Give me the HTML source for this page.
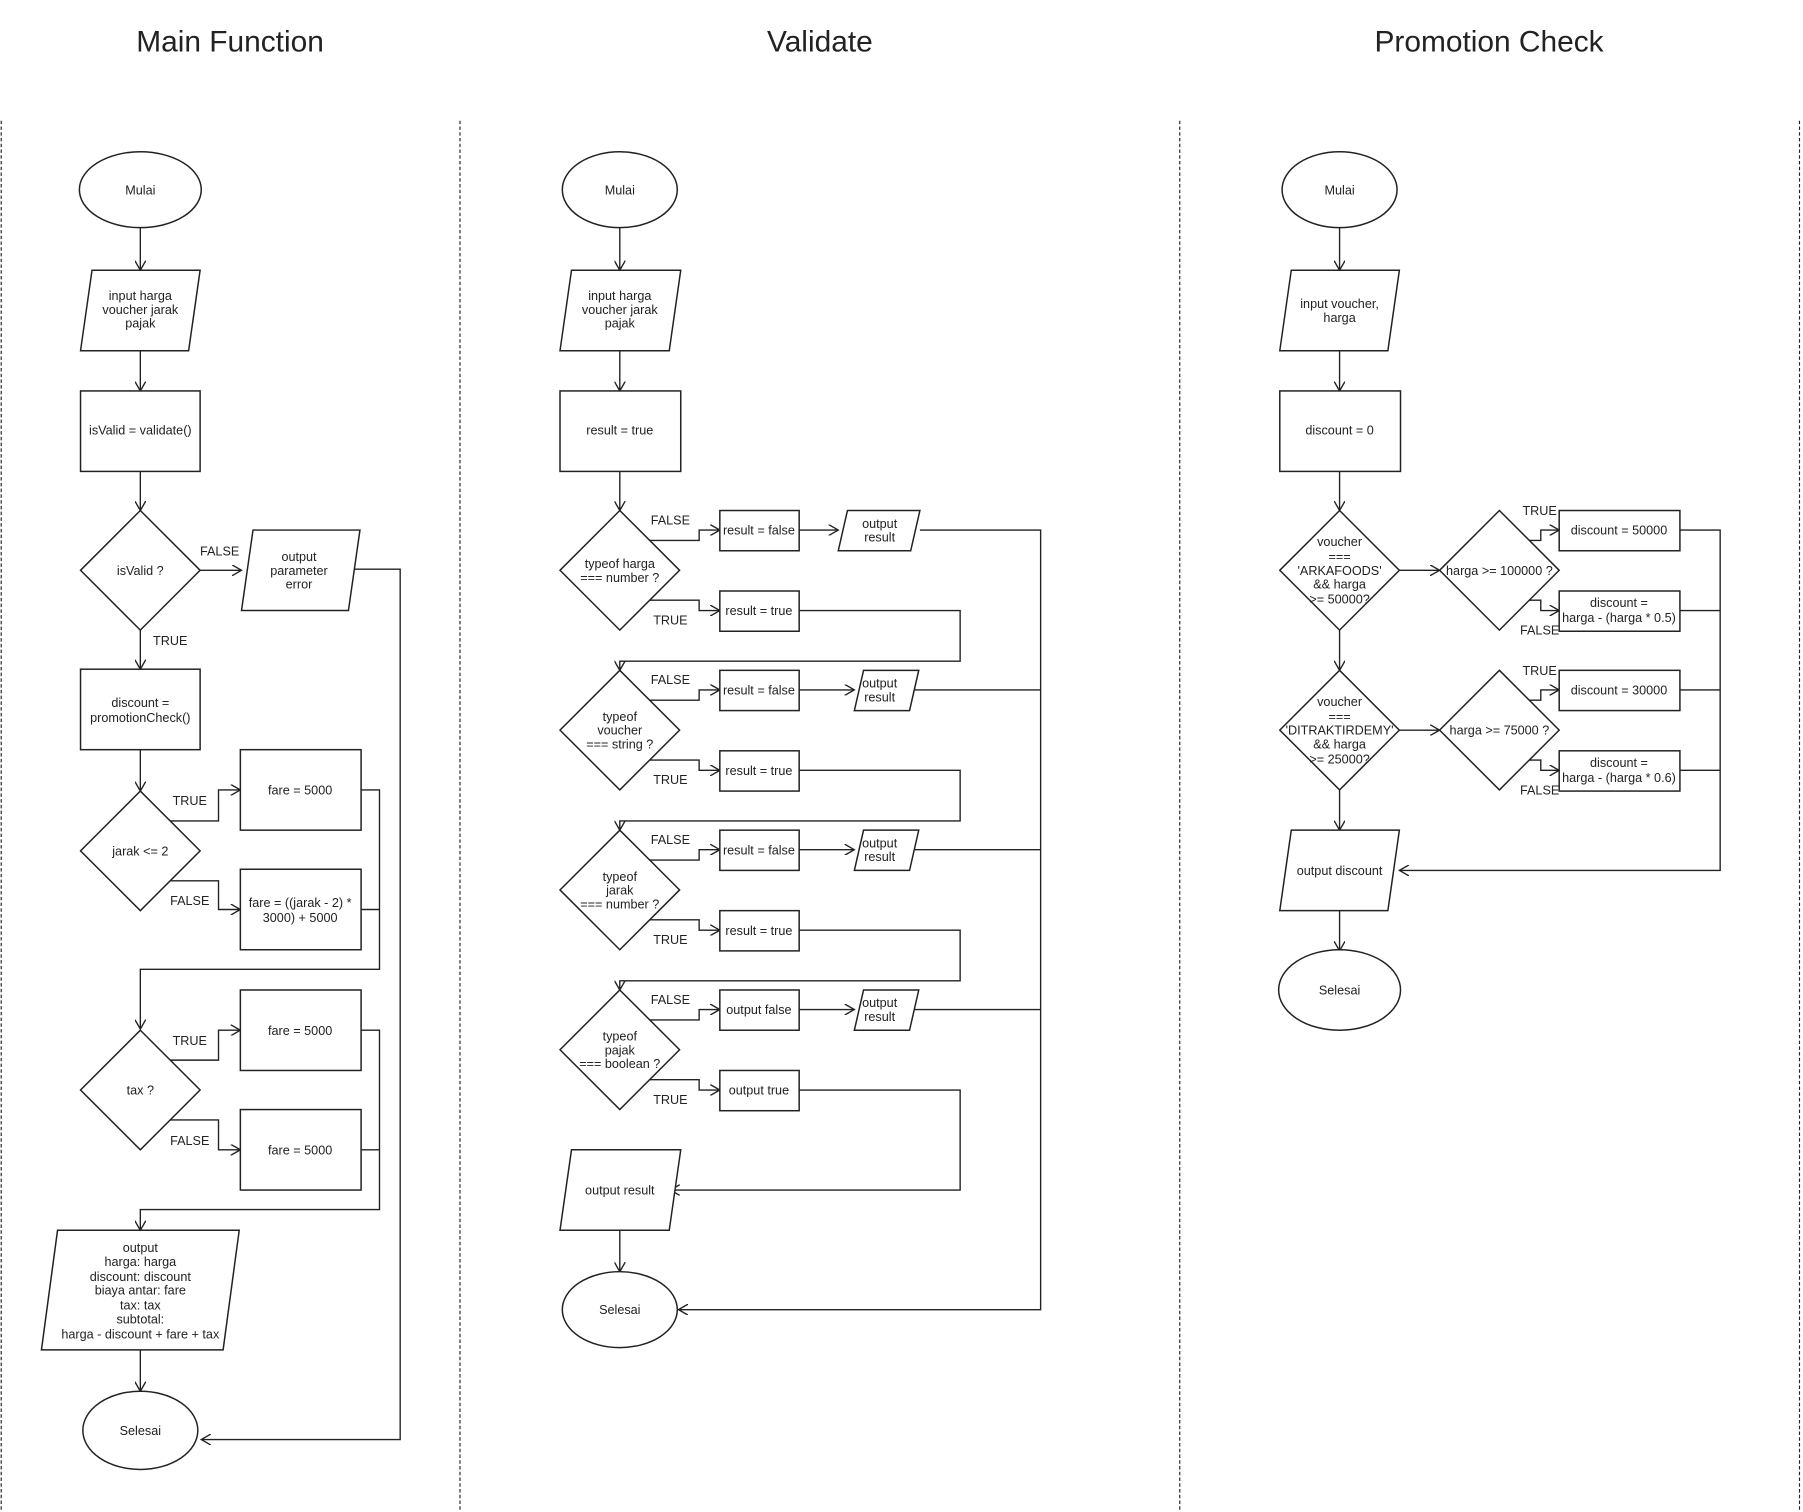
<!DOCTYPE html>
<html><head><meta charset="utf-8"><style>
html,body{margin:0;padding:0;background:#fff;}
svg{display:block}
text{font-family:"Liberation Sans",sans-serif;font-size:11px;fill:#222;text-anchor:middle;}
.t{font-size:26px;}
.s{fill:#fff;stroke:#222;stroke-width:1.3;}
.l{fill:none;stroke:#222;stroke-width:1.2;}
.d{stroke:#222;stroke-width:1;stroke-dasharray:3 2;}
</style></head><body>
<svg width="1803" height="1512" viewBox="0 0 1568 1315" xmlns="http://www.w3.org/2000/svg">
<defs><marker id="a" markerWidth="8" markerHeight="8" refX="7" refY="4" orient="auto"><path d="M0,0 L7,4 L0,8" fill="none" stroke="#222"/></marker></defs>
<text class="t" x="200" y="45">Main Function</text>
<text class="t" x="713" y="45">Validate</text>
<text class="t" x="1295" y="45">Promotion Check</text>
<line class="d" x1="1" y1="105" x2="1" y2="1315"/><line class="d" x1="400" y1="105" x2="400" y2="1315"/>
<line class="d" x1="1026" y1="105" x2="1026" y2="1315"/><line class="d" x1="1565" y1="105" x2="1565" y2="1315"/>

<!-- MAIN -->
<g class="l" marker-end="url(#a)">
<path d="M122 198V235"/><path d="M122 305V340"/><path d="M122 410V444"/><path d="M174 496H210"/><path d="M122 548V582"/><path d="M122 652V688"/>
<path d="M148 714H190V687H209"/><path d="M148 766H190V791H209"/>
<path d="M314 687H330V843H122V895"/>
<path d="M148 922H190V896H209"/><path d="M148 974H190V1000H209"/>
<path d="M314 896H330V1052H122V1070"/>
<path d="M122 1174V1210"/><path d="M305 495H348V1252H175"/>
</g>
<path class="l" d="M314 791H330M314 1000H330"/>
<ellipse class="s" cx="122" cy="165" rx="53" ry="33"/><text x="122" y="169">Mulai</text>
<polygon class="s" points="80,235 174,235 164,305 70,305"/><text x="122" y="261">input harga</text><text x="122" y="273">voucher jarak</text><text x="122" y="285">pajak</text>
<rect class="s" x="70" y="340" width="104" height="70"/><text x="122" y="378">isValid = validate()</text>
<polygon class="s" points="122,444 174,496 122,548 70,496"/><text x="122" y="500">isValid ?</text>
<polygon class="s" points="220,461 313,461 303,531 210,531"/><text x="260" y="488">output</text><text x="260" y="500">parameter</text><text x="260" y="512">error</text>
<text x="191" y="483">FALSE</text><text x="148" y="561">TRUE</text>
<rect class="s" x="70" y="582" width="104" height="70"/><text x="122" y="615">discount =</text><text x="122" y="628">promotionCheck()</text>
<polygon class="s" points="122,688 174,740 122,792 70,740"/><text x="122" y="744">jarak &lt;= 2</text>
<text x="165" y="700">TRUE</text><text x="165" y="787">FALSE</text>
<rect class="s" x="209" y="652" width="105" height="70"/><text x="261" y="691">fare = 5000</text>
<rect class="s" x="209" y="756" width="105" height="70"/><text x="261" y="789">fare = ((jarak - 2) *</text><text x="261" y="802">3000) + 5000</text>
<polygon class="s" points="122,896 174,948 122,1000 70,948"/><text x="122" y="952">tax ?</text>
<text x="165" y="909">TRUE</text><text x="165" y="996">FALSE</text>
<rect class="s" x="209" y="861" width="105" height="70"/><text x="261" y="900">fare = 5000</text>
<rect class="s" x="209" y="965" width="105" height="70"/><text x="261" y="1004">fare = 5000</text>
<polygon class="s" points="50,1070 208,1070 194,1174 36,1174"/>
<text x="122" y="1089">output</text><text x="122" y="1101">harga: harga</text><text x="122" y="1114">discount: discount</text><text x="122" y="1126">biaya antar: fare</text><text x="122" y="1139">tax: tax</text><text x="122" y="1151">subtotal:</text><text x="122" y="1164">harga - discount + fare + tax</text>
<ellipse class="s" cx="122" cy="1244" rx="50" ry="34"/><text x="122" y="1248">Selesai</text>

<!-- VALIDATE -->
<g class="l" marker-end="url(#a)">
<path d="M539 198V235"/><path d="M539 305V340"/><path d="M539 410V444"/>
<path d="M565 470H608V461H626"/><path d="M565 522H608V531H626"/><path d="M695 461H729"/>
<path d="M695 531H835V575H539V583"/>
<path d="M565 609H608V600H626"/><path d="M565 661H608V670H626"/><path d="M695 600H743"/>
<path d="M695 670H835V714H539V722"/>
<path d="M565 748H608V739H626"/><path d="M565 800H608V809H626"/><path d="M695 739H743"/>
<path d="M695 809H835V853H539V861"/>
<path d="M565 887H608V878H626"/><path d="M565 939H608V948H626"/><path d="M695 878H743"/>
<path d="M695 948H835V1035H583"/>
<path d="M539 1070V1106"/>
<path d="M800 461H905V1139H590"/>
</g>
<path class="l" d="M790 600H905M790 739H905M790 878H905"/>
<ellipse class="s" cx="539" cy="165" rx="50" ry="33"/><text x="539" y="169">Mulai</text>
<polygon class="s" points="497,235 592,235 582,305 487,305"/><text x="539" y="261">input harga</text><text x="539" y="273">voucher jarak</text><text x="539" y="285">pajak</text>
<rect class="s" x="487" y="340" width="105" height="70"/><text x="539" y="378">result = true</text>
<g>
<polygon class="s" points="539,444 591,496 539,548 487,496"/><text x="539" y="494">typeof harga</text><text x="539" y="506">=== number ?</text>
<polygon class="s" points="539,583 591,635 539,687 487,635"/><text x="539" y="627">typeof</text><text x="539" y="639">voucher</text><text x="539" y="651">=== string ?</text>
<polygon class="s" points="539,722 591,774 539,826 487,774"/><text x="539" y="766">typeof</text><text x="539" y="778">jarak</text><text x="539" y="790">=== number ?</text>
<polygon class="s" points="539,861 591,913 539,965 487,913"/><text x="539" y="905">typeof</text><text x="539" y="917">pajak</text><text x="539" y="929">=== boolean ?</text>
</g>
<text x="583" y="456">FALSE</text><text x="583" y="543">TRUE</text>
<text x="583" y="595">FALSE</text><text x="583" y="682">TRUE</text>
<text x="583" y="734">FALSE</text><text x="583" y="821">TRUE</text>
<text x="583" y="873">FALSE</text><text x="583" y="960">TRUE</text>
<rect class="s" x="626" y="444" width="69" height="35"/><text x="660" y="465">result = false</text>
<rect class="s" x="626" y="514" width="69" height="35"/><text x="660" y="535">result = true</text>
<rect class="s" x="626" y="583" width="69" height="35"/><text x="660" y="604">result = false</text>
<rect class="s" x="626" y="653" width="69" height="35"/><text x="660" y="674">result = true</text>
<rect class="s" x="626" y="722" width="69" height="35"/><text x="660" y="743">result = false</text>
<rect class="s" x="626" y="792" width="69" height="35"/><text x="660" y="813">result = true</text>
<rect class="s" x="626" y="861" width="69" height="35"/><text x="660" y="882">output false</text>
<rect class="s" x="626" y="931" width="69" height="35"/><text x="660" y="952">output true</text>
<polygon class="s" points="737,444 800,444 792,479 729,479"/><text x="765" y="459">output</text><text x="765" y="471">result</text>
<polygon class="s" points="751,583 799,583 791,618 743,618"/><text x="765" y="598">output</text><text x="765" y="610">result</text>
<polygon class="s" points="751,722 799,722 791,757 743,757"/><text x="765" y="737">output</text><text x="765" y="749">result</text>
<polygon class="s" points="751,861 799,861 791,896 743,896"/><text x="765" y="876">output</text><text x="765" y="888">result</text>
<polygon class="s" points="497,1000 592,1000 582,1070 487,1070"/><text x="539" y="1039">output result</text>
<ellipse class="s" cx="539" cy="1139" rx="50" ry="33"/><text x="539" y="1143">Selesai</text>

<!-- PROMOTION -->
<g class="l" marker-end="url(#a)">
<path d="M1165 198V235"/><path d="M1165 305V340"/><path d="M1165 410V444"/>
<path d="M1217 496H1252"/><path d="M1165 548V583"/><path d="M1217 635H1252"/><path d="M1165 687V722"/>
<path d="M1330 470H1340V461H1356"/><path d="M1330 522H1340V531H1356"/>
<path d="M1330 609H1340V600H1356"/><path d="M1330 661H1340V670H1356"/>
<path d="M1461 461H1496V757H1217"/><path d="M1165 792V827"/>
</g>
<path class="l" d="M1461 531H1496M1461 600H1496M1461 670H1496"/>
<ellipse class="s" cx="1165" cy="165" rx="50" ry="33"/><text x="1165" y="169">Mulai</text>
<polygon class="s" points="1123,235 1217,235 1207,305 1113,305"/><text x="1165" y="268">input voucher,</text><text x="1165" y="280">harga</text>
<rect class="s" x="1113" y="340" width="105" height="70"/><text x="1165" y="378">discount = 0</text>
<polygon class="s" points="1165,444 1217,496 1165,548 1113,496"/><text x="1165" y="475">voucher</text><text x="1165" y="488">===</text><text x="1165" y="500">'ARKAFOODS'</text><text x="1165" y="512">&amp;&amp; harga</text><text x="1165" y="525">&gt;= 50000?</text>
<polygon class="s" points="1304,444 1356,496 1304,548 1252,496"/><text x="1304" y="500">harga &gt;= 100000 ?</text>
<polygon class="s" points="1165,583 1217,635 1165,687 1113,635"/><text x="1165" y="614">voucher</text><text x="1165" y="627">===</text><text x="1165" y="639">'DITRAKTIRDEMY'</text><text x="1165" y="651">&amp;&amp; harga</text><text x="1165" y="664">&gt;= 25000?</text>
<polygon class="s" points="1304,583 1356,635 1304,687 1252,635"/><text x="1304" y="639">harga &gt;= 75000 ?</text>
<text x="1339" y="448">TRUE</text><text x="1339" y="552">FALSE</text><text x="1339" y="587">TRUE</text><text x="1339" y="691">FALSE</text>
<rect class="s" x="1356" y="444" width="105" height="35"/><text x="1408" y="465">discount = 50000</text>
<rect class="s" x="1356" y="514" width="105" height="35"/><text x="1408" y="528">discount =</text><text x="1408" y="541">harga - (harga * 0.5)</text>
<rect class="s" x="1356" y="583" width="105" height="35"/><text x="1408" y="604">discount = 30000</text>
<rect class="s" x="1356" y="653" width="105" height="35"/><text x="1408" y="667">discount =</text><text x="1408" y="680">harga - (harga * 0.6)</text>
<polygon class="s" points="1123,722 1217,722 1207,792 1113,792"/><text x="1165" y="761">output discount</text>
<ellipse class="s" cx="1165" cy="861" rx="53" ry="35"/><text x="1165" y="865">Selesai</text>
</svg>
</body></html>
